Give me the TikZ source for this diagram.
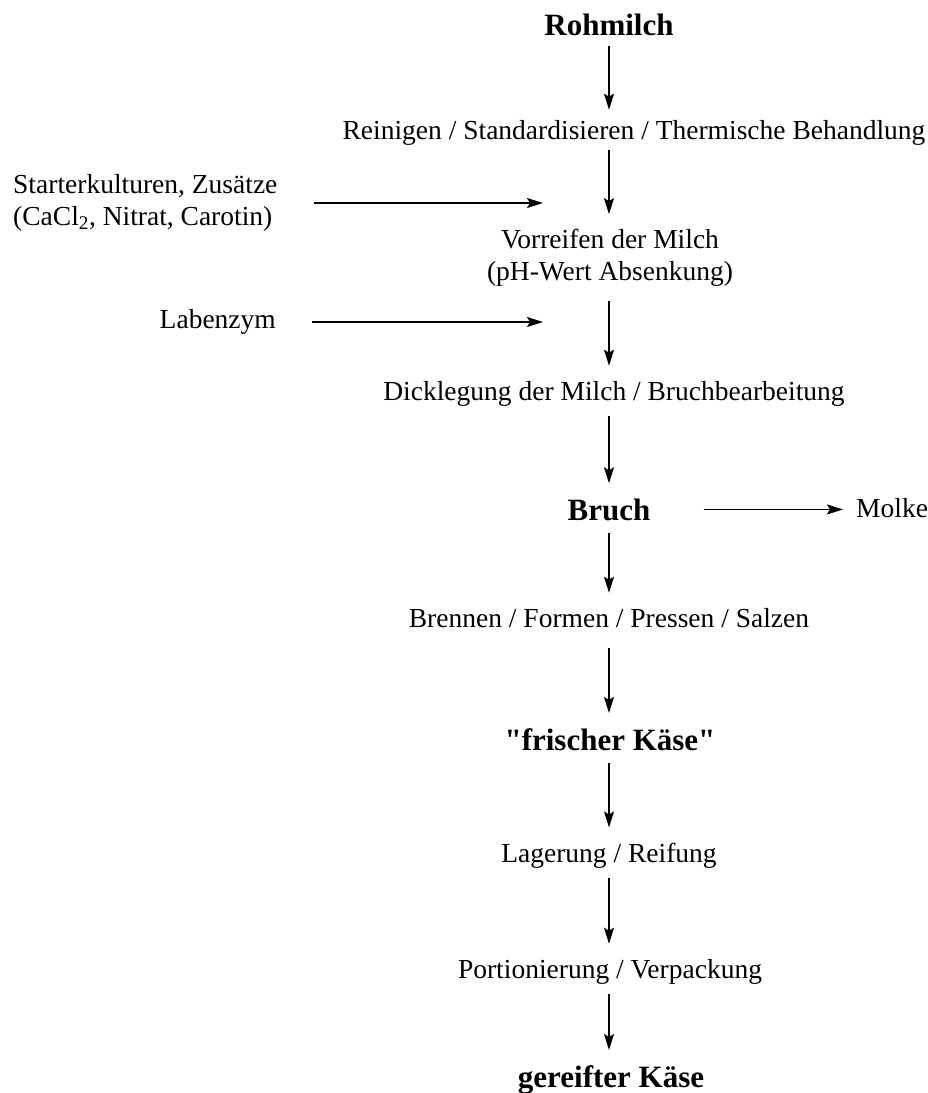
\documentclass[tikz,border=0pt]{standalone}
\usepackage{fontspec}
\setmainfont{Liberation Serif}
\usepackage{tikz}
\usetikzlibrary{arrows.meta,positioning}

\begin{document}
\begin{tikzpicture}[x=1pt, y=-1pt,
    stage/.style={inner sep=0pt, anchor=base, font=\fontsize{27.5}{32}\selectfont},
    product/.style={inner sep=0pt, anchor=base, font=\fontsize{31}{36}\selectfont\bfseries},
    input/.style={inner sep=0pt, align=left, font=\fontsize{27.5}{32}\selectfont},
    arr/.style={-{Stealth[length=16pt, width=10pt, inset=3pt]}, line width=1.6pt, shorten <=10pt, shorten >=15pt},
    feed/.style={arr, shorten <=36pt, shorten >=0pt}
]
    \useasboundingbox (0,0) rectangle (928,1093);

    % main line
    \node[product] (rohmilch) at (609,35) {Rohmilch};
    \node[stage] (reinigen) at (634,139) {Reinigen / Standardisieren / Thermische Behandlung};
    \node[stage, anchor=center, align=center] (vorreifen) at (610,258) {Vorreifen der Milch\\(pH-Wert Absenkung)};
    \node[stage] (dicklegung) at (614,400) {Dicklegung der Milch / Bruchbearbeitung};
    \node[product] (bruch) at (609,520) {Bruch};
    \node[stage] (brennen) at (609,627) {Brennen / Formen / Pressen / Salzen};
    \node[product] (frisch) at (610,750) {\textquotedbl frischer Käse\textquotedbl};
    \node[stage] (lagerung) at (609,862) {Lagerung / Reifung};
    \node[stage] (portion) at (610,978) {Portionierung / Verpackung};
    \node[product] (gereift) at (611,1087) {gereifter Käse};

    % inputs and output
    \node[input, anchor=west] (starter) at (13,203) {Starterkulturen, Zusätze\\(CaCl\textsubscript{2}, Nitrat, Carotin)};
    \node[input, anchor=east] (labenzym) at (276,322) {Labenzym};
    \node[stage, anchor=base west] (molke) at (856,517) {Molke};
    \coordinate (feed1) at (543,203);
    \coordinate (feed2) at (543,322);

    \draw[arr, shorten >=10pt] (rohmilch.south) -- (rohmilch.south |- reinigen.north);
    \draw[arr, shorten <=5pt] (rohmilch |- reinigen.south) -- (rohmilch |- vorreifen.north);
    \draw[arr, shorten <=14pt] (rohmilch |- vorreifen.south) -- (rohmilch |- dicklegung.north);
    \draw[arr] (rohmilch |- dicklegung.south) -- (rohmilch |- bruch.north);
    \draw[arr, shorten <=12pt] (rohmilch |- bruch.south) -- (rohmilch |- brennen.north);
    \draw[arr, shorten <=21pt] (rohmilch |- brennen.south) -- (rohmilch |- frisch.north);
    \draw[arr, shorten <=12pt] (rohmilch |- frisch.south) -- (rohmilch |- lagerung.north);
    \draw[arr] (rohmilch |- lagerung.south) -- (rohmilch |- portion.north);
    \draw[arr] (rohmilch |- portion.south) -- (rohmilch |- gereift.north);

    \draw[feed] (starter.east) -- (feed1);
    \draw[feed] (labenzym.east) -- (feed2);
    \draw[arr, shorten <=53pt, shorten >=13pt] (bruch) -- (bruch -| molke.west);
\end{tikzpicture}
\end{document}
